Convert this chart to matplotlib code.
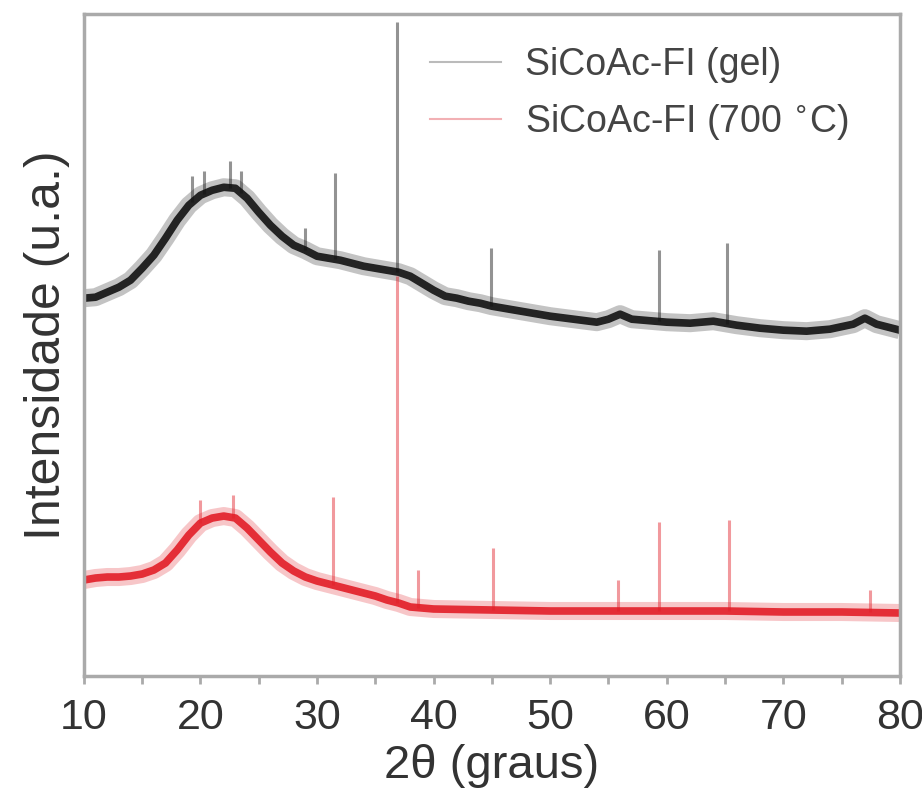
import numpy as np
import matplotlib
matplotlib.use('Agg')
import matplotlib.pyplot as plt
from matplotlib.lines import Line2D
from matplotlib.ticker import MultipleLocator

plt.rcParams['font.family'] = ['Liberation Sans', 'DejaVu Sans']

# --- data (2theta in degrees, intensity in arbitrary units) ---

gel_x = [10, 11, 12, 13, 14, 15, 16, 17, 18, 19, 20, 21, 22, 23, 24, 25, 26, 27, 28, 29,
         30, 31, 32, 33, 34, 35, 36, 37, 38, 39, 40, 41, 42, 43, 44, 45, 46, 47, 48, 50,
         52, 54, 55, 56, 57, 58, 60, 62, 64, 66, 68, 70, 72, 74, 76, 77, 78, 79, 80]
gel_y = [378, 379, 384, 389, 396, 408, 421, 438, 456, 471, 481, 486, 489, 488, 478, 464, 451, 440, 431, 426,
         420, 418, 416, 413, 410, 408, 406, 404, 400, 393, 386, 380, 378, 375, 373, 370, 368, 366, 364, 360,
         357, 354, 357, 362, 357, 356, 354, 353, 355, 351, 348, 346, 345, 347, 352, 358, 352, 349, 346]

gel_peak_x = [19.3, 20.3, 22.5, 23.5, 29.0, 31.5, 36.9, 44.9, 59.3, 65.2]
gel_peak_y = [500, 505, 515, 505, 448, 503, 654, 428, 426, 433]

c700_x = [10, 11, 12, 13, 14, 15, 16, 17, 18, 19, 20, 21, 22, 23, 24, 25, 26, 27, 28, 29,
          30, 31, 32, 33, 34, 35, 36, 37, 38, 40, 45, 50, 55, 60, 65, 70, 75, 80]
c700_y = [96, 98, 99, 99, 100, 102, 106, 113, 126, 141, 153, 158, 160, 158, 148, 136, 124, 113, 105, 99,
          95, 92, 89, 86, 83, 80, 76, 73, 69, 67, 66, 65, 65, 65, 65, 64, 64, 63]

c700_peak_x = [20.0, 22.8, 31.4, 36.9, 38.7, 45.1, 55.8, 59.3, 65.3, 77.4]
c700_peak_y = [176, 181, 179, 400, 106, 128, 96, 154, 156, 86]

labels = ['SiCoAc-FI (gel)', 'SiCoAc-FI (700 $^{\\circ}$C)']

# --- plot ---

fig = plt.figure(figsize=(9.22, 7.99), dpi=100)
ax = fig.add_axes([0.091, 0.154, 0.885, 0.828])

black = '#111111'
red = '#e21d27'

for xs, ys, px, py, col in [(gel_x, gel_y, gel_peak_x, gel_peak_y, black),
                            (c700_x, c700_y, c700_peak_x, c700_peak_y, red)]:
    base = np.interp(px, xs, ys)
    ax.vlines(px, base, py, color=col, linewidth=2.2, alpha=0.45)
    ax.plot(xs, ys, color=col, linewidth=13, alpha=0.25, solid_capstyle='butt')
    ax.plot(xs, ys, color=col, linewidth=5.5, alpha=0.9, solid_capstyle='butt')

ax.set_xlim(10, 80)
ax.set_ylim(0, 662)
ax.set_yticks([])
ax.xaxis.set_major_locator(MultipleLocator(10))
ax.xaxis.set_minor_locator(MultipleLocator(5))
ax.tick_params(axis='x', which='both', direction='out', length=6, width=2,
               color='#aaaaaa', labelsize=31, labelcolor='#333333', pad=10)

for s in ax.spines.values():
    s.set_color('#aaaaaa')
    s.set_linewidth(2.5)

ax.set_xlabel('2\u03b8 (graus)', fontsize=34, color='#333333', labelpad=4)
ax.set_ylabel('Intensidade (u.a.)', fontsize=36, color='#333333', labelpad=10)

handles = [Line2D([], [], color='#bbbbbb', linewidth=1.5),
           Line2D([], [], color='#f2b0b4', linewidth=1.5)]
ax.legend(handles, labels, loc='upper left', frameon=False, fontsize=27,
          labelcolor='#444444', handlelength=1.9, handletextpad=0.65,
          bbox_to_anchor=(0.424, 0.95), borderaxespad=0, borderpad=0,
          labelspacing=0.5)

fig.savefig('out.png', dpi=100)
